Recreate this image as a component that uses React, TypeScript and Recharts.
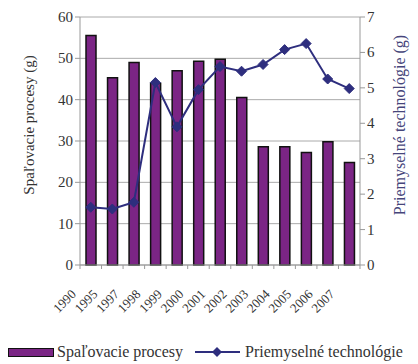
import { ComposedChart, Bar, Line, XAxis, YAxis, CartesianGrid, Label } from 'recharts';

const YEARS = ['1990', '1995', '1997', '1998', '1999', '2000', '2001', '2002', '2003', '2004', '2005', '2006', '2007'];
const SPALOVACIE = [55.5, 45.3, 49, 44, 47, 49.3, 49.8, 40.5, 28.6, 28.6, 27.2, 29.8, 24.8];
const PRIEMYSELNE = [1.63, 1.58, 1.77, 5.15, 3.9, 4.95, 5.6, 5.47, 5.66, 6.08, 6.25, 5.25, 4.98];
const LEFT_TICKS = [0, 10, 20, 30, 40, 50, 60];
const RIGHT_TICKS = [0, 1, 2, 3, 4, 5, 6, 7];

const BAR_COLOR = '#7B2585';
const LINE_COLOR = '#2E2E7E';
const FONT = 'Liberation Serif';

const chartData = YEARS.map((year, i) => ({
    year,
    spal: SPALOVACIE[i],
    priem: PRIEMYSELNE[i],
}));

interface TickProps {
    x?: number;
    y?: number;
    textAnchor?: string;
    payload?: { value: string | number; index: number };
}

function YearTick({ x = 0, y = 0, payload }: TickProps) {
    const half = 280 / YEARS.length / 2;
    const isLast = payload?.index === YEARS.length - 1;
    const tx = x - 14;
    const ty = y + 22;
    return (
        <g>
            <line x1={x - half} y1={y - 8} x2={x - half} y2={y - 4} stroke="#999" />
            {isLast && <line x1={x + half} y1={y - 8} x2={x + half} y2={y - 4} stroke="#999" />}
            <text
                x={tx}
                y={ty}
                transform={`rotate(-45, ${tx}, ${ty})`}
                textAnchor="end"
                fontFamily={FONT}
                fontSize={13}
                fill="#333"
            >
                {payload?.value}
            </text>
        </g>
    );
}

function NumTick({ x = 0, y = 0, textAnchor, payload }: TickProps) {
    return (
        <text x={x} y={y} dy={5} textAnchor={textAnchor} fontFamily={FONT} fontSize={15} fill="#333">
            {payload?.value}
        </text>
    );
}

interface AxisTitleProps {
    viewBox?: { x: number; y: number; width: number; height: number };
    text: string;
    dx: number;
    size: number;
    color: string;
}

// rotated axis title, placed a bit above the plot centre like the original
function AxisTitle({ viewBox, text, dx, size, color }: AxisTitleProps) {
    if (!viewBox) return null;
    const cx = viewBox.x + dx;
    const cy = viewBox.y + viewBox.height / 2 - 16;
    return (
        <text
            x={cx}
            y={cy}
            transform={`rotate(-90, ${cx}, ${cy})`}
            textAnchor="middle"
            dominantBaseline="central"
            fontFamily={FONT}
            fontSize={size}
            fill={color}
        >
            {text}
        </text>
    );
}

interface DotProps {
    cx?: number;
    cy?: number;
}

function Diamond({ cx = 0, cy = 0 }: DotProps) {
    const r = 5;
    return <polygon points={`${cx},${cy - r} ${cx + r},${cy} ${cx},${cy + r} ${cx - r},${cy}`} fill={LINE_COLOR} stroke={LINE_COLOR} />;
}

export default function App() {
    return (
        <div style={{ position: 'absolute', left: 0, top: 0, width: 418, height: 364, background: '#fff', fontFamily: FONT }}>
            <ComposedChart width={418} height={364} data={chartData} margin={{ top: 17, right: 0, bottom: 0, left: 0 }}>
                <CartesianGrid yAxisId="left" vertical={false} stroke="#aaa" />
                <XAxis dataKey="year" height={99} axisLine={{ stroke: '#999' }} tickLine={false} tick={<YearTick />} interval={0} />
                <YAxis
                    yAxisId="left"
                    width={80}
                    domain={[0, 60]}
                    ticks={LEFT_TICKS}
                    axisLine={{ stroke: '#999' }}
                    tickLine={{ stroke: '#999' }}
                    tickSize={5}
                    tick={<NumTick />}
                >
                    <Label content={<AxisTitle text="Spaľovacie procesy (g)" dx={29} size={15} color="#333" />} />
                </YAxis>
                <YAxis
                    yAxisId="right"
                    orientation="right"
                    width={58}
                    domain={[0, 7]}
                    ticks={RIGHT_TICKS}
                    axisLine={{ stroke: '#999' }}
                    tickLine={{ stroke: '#999' }}
                    tickSize={5}
                    tick={<NumTick />}
                >
                    <Label content={<AxisTitle text="Priemyselné technológie (g)" dx={39} size={16} color="#45457a" />} />
                </YAxis>
                <Bar yAxisId="left" dataKey="spal" barSize={10} fill={BAR_COLOR} stroke="#111" strokeWidth={1.5} isAnimationActive={false} />
                <Line
                    yAxisId="right"
                    dataKey="priem"
                    type="linear"
                    stroke={LINE_COLOR}
                    strokeWidth={2}
                    dot={<Diamond />}
                    activeDot={false}
                    isAnimationActive={false}
                />
            </ComposedChart>
            <div
                style={{
                    position: 'absolute',
                    left: 8,
                    top: 343,
                    display: 'flex',
                    alignItems: 'center',
                    fontFamily: FONT,
                    fontSize: 16,
                    color: '#333',
                    whiteSpace: 'nowrap',
                }}
            >
                <span style={{ display: 'inline-block', width: 44, height: 7, background: BAR_COLOR, border: '1.5px solid #111', marginRight: 3 }} />
                <span>Spaľovacie procesy</span>
                <svg width={45} height={12} style={{ marginLeft: 12, marginRight: 5 }}>
                    <line x1={0} y1={6} x2={45} y2={6} stroke={LINE_COLOR} strokeWidth={2} />
                    <polygon points="22,1 27,6 22,11 17,6" fill={LINE_COLOR} />
                </svg>
                <span>Priemyselné technológie</span>
            </div>
        </div>
    );
}
